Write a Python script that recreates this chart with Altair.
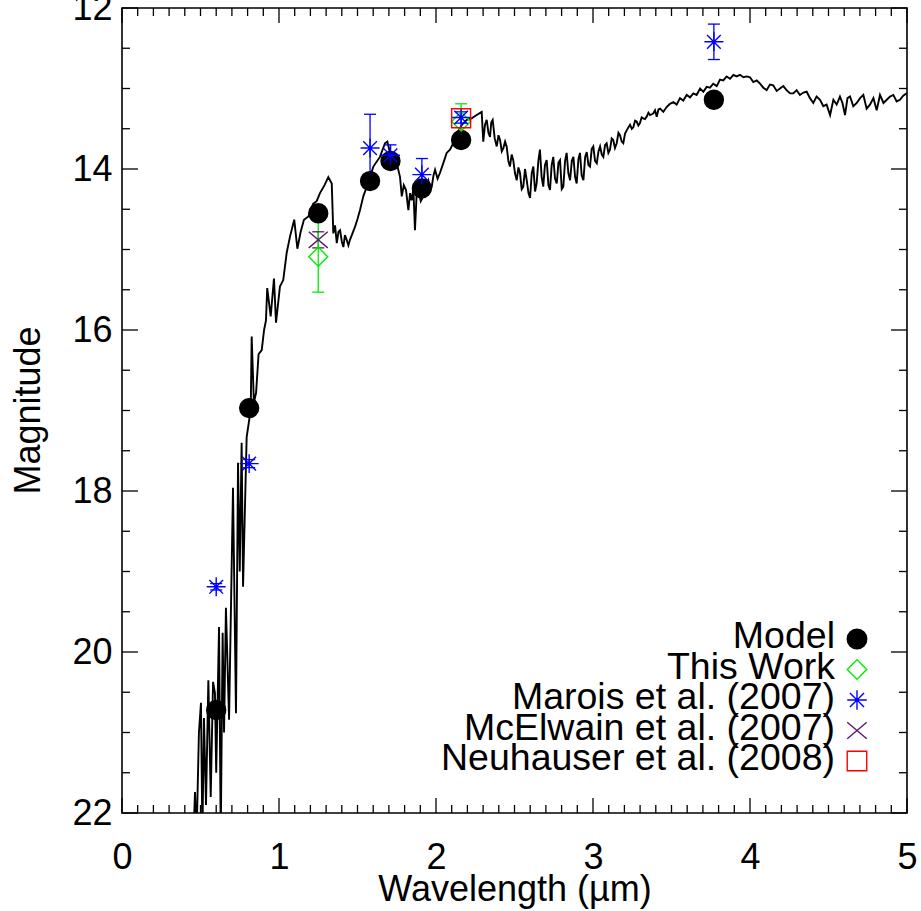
import altair as alt
import pandas as pd

FONT = "Liberation Sans, Arial, Helvetica, sans-serif"

# ---- model spectrum (wavelength in micron, magnitude) ----
spec_w = [
    0.455, 0.465, 0.475, 0.490, 0.503, 0.512, 0.522, 0.535, 0.550, 0.565,
    0.580, 0.592, 0.600, 0.618, 0.629, 0.641, 0.650, 0.662, 0.682, 0.707,
    0.726, 0.739, 0.750, 0.762, 0.771, 0.794, 0.820, 0.826, 0.840, 0.854,
    0.870, 0.890, 0.905, 0.917, 0.925, 0.947, 0.968, 0.981, 1.006, 1.027,
    1.049, 1.070, 1.097, 1.117, 1.138, 1.159, 1.187, 1.218, 1.240, 1.261,
    1.290, 1.314, 1.336, 1.346, 1.357, 1.368, 1.379, 1.389, 1.400, 1.410,
    1.420, 1.431, 1.442, 1.452, 1.468, 1.484, 1.500, 1.516, 1.537, 1.559,
    1.601, 1.643, 1.675, 1.690, 1.707, 1.750, 1.771, 1.782, 1.795, 1.809,
    1.824, 1.835, 1.845, 1.856, 1.866, 1.877, 1.887, 1.903, 1.919, 1.935,
    1.951, 1.962, 1.973, 1.984, 1.994, 2.010, 2.025, 2.046, 2.068, 2.089,
    2.110, 2.132, 2.165, 2.196, 2.227, 2.259, 2.291, 2.301, 2.312, 2.323,
    2.334, 2.344, 2.352, 2.361, 2.374, 2.387, 2.398, 2.408, 2.419, 2.429,
    2.440, 2.450, 2.461, 2.471, 2.482, 2.492, 2.503, 2.514, 2.525, 2.535,
    2.546, 2.556, 2.567, 2.578, 2.589, 2.599, 2.610, 2.620, 2.631, 2.641,
    2.652, 2.662, 2.673, 2.683, 2.694, 2.705, 2.716, 2.726, 2.737, 2.747,
    2.758, 2.769, 2.780, 2.790, 2.801, 2.811, 2.822, 2.832, 2.843, 2.854,
    2.865, 2.875, 2.886, 2.896, 2.907, 2.917, 2.928, 2.939, 2.950, 2.960,
    2.971, 2.981, 2.992, 3.002, 3.013, 3.024, 3.035, 3.045, 3.056, 3.066,
    3.077, 3.087, 3.098, 3.108, 3.119, 3.129, 3.140, 3.151, 3.162, 3.172,
    3.183, 3.193, 3.204, 3.215, 3.226, 3.236, 3.247, 3.257, 3.268, 3.278,
    3.289, 3.299, 3.310, 3.320, 3.331, 3.342, 3.353, 3.363, 3.374, 3.384,
    3.395, 3.406, 3.417, 3.427, 3.448, 3.469, 3.490, 3.512, 3.533, 3.554,
    3.575, 3.597, 3.618, 3.639, 3.660, 3.682, 3.703, 3.724, 3.745, 3.766,
    3.788, 3.809, 3.830, 3.851, 3.873, 3.894, 3.915, 3.936, 3.958, 3.979,
    4.000, 4.021, 4.043, 4.064, 4.085, 4.106, 4.127, 4.148, 4.170, 4.191,
    4.212, 4.233, 4.255, 4.276, 4.297, 4.318, 4.340, 4.361, 4.382, 4.403,
    4.424, 4.446, 4.467, 4.488, 4.510, 4.531, 4.552, 4.573, 4.589, 4.605,
    4.621, 4.637, 4.658, 4.680, 4.701, 4.722, 4.743, 4.764, 4.786, 4.807,
    4.828, 4.850, 4.871, 4.892, 4.913, 4.934, 4.955, 4.976, 4.998,
]
spec_m = [
    22.30, 21.74, 22.30, 21.00, 20.63, 22.30, 20.82, 21.90, 20.35, 21.80,
    20.37, 20.51, 21.50, 19.69, 22.30, 19.76, 21.00, 19.45, 20.84, 17.96,
    20.76, 17.65, 19.00, 17.40, 19.19, 17.33, 16.99, 16.08, 16.90, 16.78,
    16.30, 16.25, 16.00, 15.88, 15.48, 15.83, 15.36, 15.91, 15.46, 15.38,
    15.04, 14.84, 14.63, 14.99, 14.78, 14.63, 14.59, 14.43, 14.40, 14.30,
    14.20, 14.10, 14.18, 14.80, 14.70, 14.92, 14.78, 14.76, 14.90, 14.97,
    14.82, 14.88, 14.95, 14.88, 14.80, 14.72, 14.62, 14.51, 14.34, 14.22,
    13.97, 13.85, 13.68, 13.66, 13.80, 13.93, 14.10, 14.34, 14.20, 14.26,
    14.51, 14.30, 14.39, 14.25, 14.76, 14.30, 14.26, 14.40, 14.34, 14.20,
    14.14, 14.28, 14.22, 14.08, 14.01, 14.12, 14.05, 13.93, 13.80, 13.76,
    13.68, 13.56, 13.45, 13.39, 13.37, 13.33, 13.29, 13.66, 13.45, 13.39,
    13.55, 13.60, 13.42, 13.39, 13.62, 13.72, 13.58, 13.64, 13.78, 13.74,
    13.66, 13.72, 13.90, 13.97, 13.82, 13.89, 14.05, 14.14, 13.98, 14.05,
    14.25, 14.22, 14.00, 14.14, 14.30, 14.36, 14.05, 13.97, 14.28, 14.18,
    13.90, 13.76, 14.10, 14.22, 13.95, 13.89, 14.20, 14.26, 13.95, 13.85,
    14.12, 14.18, 13.92, 13.89, 14.25, 14.22, 13.90, 13.80, 14.05, 14.14,
    13.90, 13.85, 14.10, 14.18, 13.88, 13.80, 14.08, 14.14, 13.85, 13.79,
    13.95, 13.97, 13.75, 13.72, 13.90, 13.93, 13.78, 13.72, 13.82, 13.85,
    13.70, 13.68, 13.80, 13.76, 13.62, 13.64, 13.74, 13.68, 13.55, 13.58,
    13.66, 13.68, 13.56, 13.52, 13.48, 13.45, 13.50, 13.48, 13.40, 13.41,
    13.46, 13.43, 13.36, 13.37, 13.38, 13.35, 13.30, 13.33, 13.32, 13.31,
    13.27, 13.35, 13.26, 13.25, 13.29, 13.23, 13.19, 13.17, 13.20, 13.12,
    13.15, 13.08, 13.11, 13.06, 13.08, 13.00, 13.04, 12.98, 12.99, 12.94,
    12.97, 12.89, 12.90, 12.85, 12.88, 12.83, 12.85, 12.83, 12.86, 12.85,
    12.86, 12.92, 12.90, 12.94, 12.99, 13.02, 12.95, 12.96, 13.03, 13.00,
    12.97, 13.02, 13.06, 13.06, 13.02, 13.08, 13.05, 13.04, 13.12, 13.18,
    13.10, 13.14, 13.22, 13.20, 13.33, 13.14, 13.20, 13.10, 13.18, 13.33,
    13.12, 13.10, 13.22, 13.18, 13.12, 13.08, 13.25, 13.20, 13.12, 13.27,
    13.08, 13.18, 13.14, 13.10, 13.08, 13.16, 13.14, 13.09, 13.06,
]

# ---- photometry ----
series_names = ["Model", "This Work", "Marois et al. (2007)",
                "McElwain et al. (2007)", "Neuhauser et al. (2008)"]

model_w = [0.60, 0.81, 1.25, 1.58, 1.71, 1.91, 2.16, 3.77]
model_m = [20.72, 16.97, 14.55, 14.15, 13.90, 14.24, 13.64, 13.14]

thiswork_w = [1.25, 2.16]
thiswork_m = [15.09, 13.41]
thiswork_e = [0.44, 0.22]

marois_w = [0.60, 0.81, 1.58, 1.71, 1.91, 2.16, 3.77]
marois_m = [19.19, 17.66, 13.74, 13.83, 14.07, 13.36, 12.42]
marois_e = [0.04, 0.05, 0.42, 0.13, 0.20, 0.07, 0.22]

mcelwain_w = [1.25]
mcelwain_m = [14.88]
mcelwain_e = [0.10]

neuhauser_w = [2.16]
neuhauser_m = [13.37]

# axis ticks
major_x = [0, 1, 2, 3, 4, 5]
minor_x = [i / 10 for i in range(51) if i % 10]
major_y = [12, 14, 16, 18, 20, 22]
minor_y = [12 + i / 2 for i in range(21) if i % 4]

# ---- tables ----
spec = pd.DataFrame({"w": spec_w, "m": spec_m, "i": range(len(spec_w))})

pts = []
for name, ws, ms in [
    ("Model", model_w, model_m),
    ("McElwain et al. (2007)", mcelwain_w, mcelwain_m),
    ("This Work", thiswork_w, thiswork_m),
    ("Marois et al. (2007)", marois_w, marois_m),
    ("Neuhauser et al. (2008)", neuhauser_w, neuhauser_m),
]:
    for w, m in zip(ws, ms):
        pts.append({"series": name, "w": w, "m": m})
pts = pd.DataFrame(pts)

errs = []
for name, ws, ms, es in [
    ("McElwain et al. (2007)", mcelwain_w, mcelwain_m, mcelwain_e),
    ("This Work", thiswork_w, thiswork_m, thiswork_e),
    ("Marois et al. (2007)", marois_w, marois_m, marois_e),
]:
    for w, m, e in zip(ws, ms, es):
        errs.append({"series": name, "w": w, "lo": m - e, "hi": m + e})
errs = pd.DataFrame(errs)

legend_df = pd.DataFrame({"series": series_names, "row": list(range(len(series_names)))})

# ---- scales and axes ----
W, H = 785, 805
xs = alt.Scale(domain=[0, 5], nice=False, zero=False)
ys = alt.Scale(domain=[12, 22], reverse=True, nice=False, zero=False)

colors = ["black", "#00ee00", "#0000ff", "#5a1a70", "#ff0000"]
fills = ["black", "transparent", "transparent", "transparent", "transparent"]
shapes = [
    "circle",
    "M0,-1L1,0L0,1L-1,0Z",
    "M-1,0L1,0M0,-1L0,1M-0.72,-0.72L0.72,0.72M-0.72,0.72L0.72,-0.72",
    "M-1,-0.85L1,0.85M-1,0.85L1,-0.85",
    "M-1,-1L1,-1L1,1L-1,1Z",
]
cscale = alt.Scale(domain=series_names, range=colors)
fscale = alt.Scale(domain=series_names, range=fills)
sscale = alt.Scale(domain=series_names, range=shapes)

x_axis = alt.Axis(
    values=major_x, format="d", title="Wavelength (µm)", ticks=False, domain=False,
    grid=False, labelFont=FONT, labelFontSize=36, labelColor="black", labelPadding=27,
    labelFlush=False, labelOverlap=False,
    titleFont=FONT, titleFontSize=36, titleFontWeight="normal", titleColor="black",
    titleX=W / 2, titleY=87, titleBaseline="alphabetic", titleAlign="center",
)
y_axis = alt.Axis(
    values=major_y, format="d", title="Magnitude", ticks=False, domain=False,
    grid=False, labelFont=FONT, labelFontSize=36, labelColor="black", labelPadding=10,
    labelFlush=False, labelOverlap=False,
    titleFont=FONT, titleFontSize=36, titleFontWeight="normal", titleColor="black",
    titleX=-94, titleY=402, titleBaseline="middle", titleAlign="center", titleAngle=-90,
)


def X(field):
    return alt.X(field, scale=xs, axis=x_axis)


def Y(field):
    return alt.Y(field, scale=ys, axis=y_axis)


line = alt.Chart(spec).mark_line(color="black", strokeWidth=1.9, clip=True).encode(
    x=X("w:Q"), y=Y("m:Q"), order="i:Q",
)


# ticks drawn inward on all four sides
def xticks(vals, length):
    d = pd.DataFrame({"t": vals})
    base = alt.Chart(d).mark_rule(color="black", strokeWidth=1.3)
    bottom = base.encode(x=X("t:Q"), y=alt.value(H), y2=alt.value(H - length))
    top = base.encode(x=X("t:Q"), y=alt.value(0), y2=alt.value(length))
    return [bottom, top]


def yticks(vals, length):
    d = pd.DataFrame({"t": vals})
    base = alt.Chart(d).mark_rule(color="black", strokeWidth=1.3)
    left = base.encode(y=Y("t:Q"), x=alt.value(0), x2=alt.value(length))
    right = base.encode(y=Y("t:Q"), x=alt.value(W), x2=alt.value(W - length))
    return [left, right]


tick_layers = xticks(major_x, 15) + xticks(minor_x, 8) + yticks(major_y, 16) + yticks(minor_y, 8)

ebar = alt.Chart(errs).mark_rule(strokeWidth=1.3).encode(
    x=X("w:Q"), y=Y("lo:Q"), y2="hi:Q",
    color=alt.Color("series:N", scale=cscale, legend=None),
)
cap_lo = alt.Chart(errs).mark_point(shape="M-1,0L1,0", size=144, strokeWidth=1.3, opacity=1).encode(
    x=X("w:Q"), y=Y("lo:Q"),
    color=alt.Color("series:N", scale=cscale, legend=None),
)
cap_hi = cap_lo.encode(y=Y("hi:Q"))

markers = alt.Chart(pts).mark_point(size=360, strokeWidth=1.4, opacity=1).encode(
    x=X("w:Q"), y=Y("m:Q"),
    color=alt.Color("series:N", scale=cscale, legend=None),
    fill=alt.Fill("series:N", scale=fscale, legend=None),
    shape=alt.Shape("series:N", scale=sscale, legend=None),
)

main = alt.layer(line, *tick_layers, ebar, cap_lo, cap_hi, markers)

# key in the lower right corner
lscale = alt.Scale(domain=[0, 4], range=[631, 753])
key_sym = alt.Chart(legend_df).mark_point(size=380, strokeWidth=1.4, opacity=1).encode(
    x=alt.value(735),
    y=alt.Y("row:Q", scale=lscale, axis=None),
    color=alt.Color("series:N", scale=cscale, legend=None),
    fill=alt.Fill("series:N", scale=fscale, legend=None),
    shape=alt.Shape("series:N", scale=sscale, legend=None),
)
key_txt = alt.Chart(legend_df).mark_text(
    align="right", baseline="alphabetic", dy=9, font=FONT, fontSize=37.5, color="black"
).encode(
    x=alt.value(713),
    y=alt.Y("row:Q", scale=lscale, axis=None),
    text="series:N",
)
key = alt.layer(key_sym, key_txt)

chart = alt.layer(main, key).resolve_scale(y="independent").properties(
    width=W, height=H,
    autosize=alt.AutoSizeParams(type="none"),
    padding={"left": 122, "top": 8, "right": 14, "bottom": 98},
    background="white",
).configure_view(stroke="black", strokeWidth=1.6)

chart.save("out.html", embed_options={"renderer": "svg", "actions": False})
